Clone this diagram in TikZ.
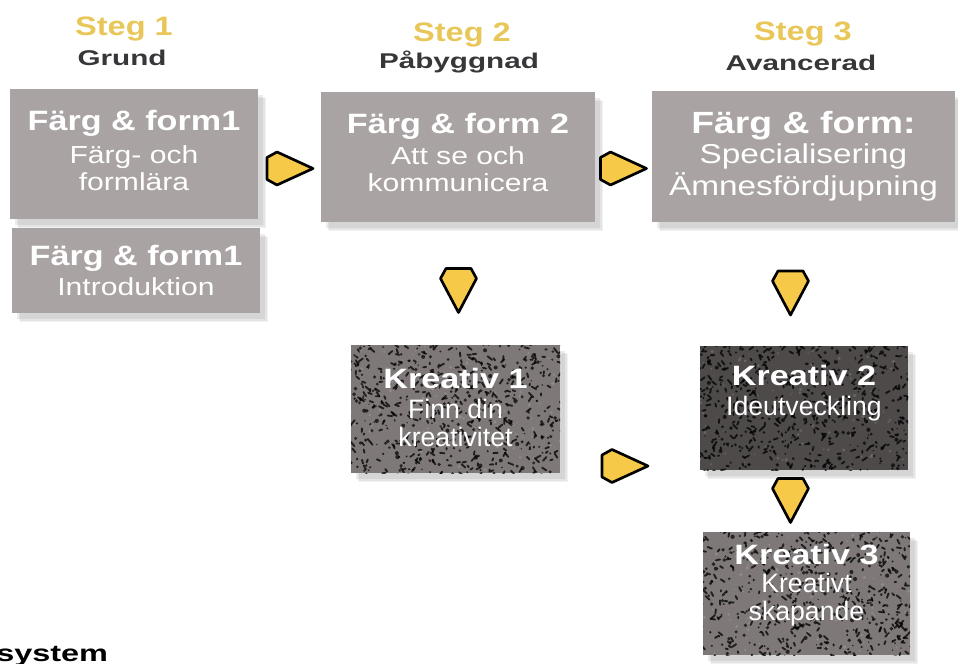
\documentclass[tikz,border=0pt]{standalone}
\usepackage{fontspec}
\setmainfont{Liberation Sans}
\newfontfamily\widesans[FakeStretch=1.22]{Liberation Sans}
\newfontfamily\xwidesans[FakeStretch=1.39]{Liberation Sans}
\usetikzlibrary{calc,shadows}

\definecolor{boxgrey}{RGB}{169,163,163}
\definecolor{kreagrey}{RGB}{126,120,120}
\definecolor{kreadark}{RGB}{78,74,74}
\definecolor{steggold}{RGB}{232,198,88}
\definecolor{levelgrey}{RGB}{55,55,58}
\definecolor{arrowyellow}{RGB}{246,202,72}

\newcommand\boxtitle{\widesans\bfseries\fontsize{21}{24}\selectfont}
\newcommand\boxsub{\widesans\fontsize{18.5}{20.25}\selectfont}
\newcommand\kreasub{\fontsize{20}{21}\selectfont}
\newcommand\stegfont{\widesans\bfseries\fontsize{20}{22}\selectfont}
\newcommand\levelfont{\xwidesans\bfseries\fontsize{16}{19}\selectfont}

\begin{document}
\begin{tikzpicture}[x=0.75pt,y=-0.75pt,
  greybox/.style={fill=boxgrey, text=white, align=center, inner sep=0pt, font=\boxsub,
    drop shadow={shadow xshift=6pt, shadow yshift=-7pt, opacity=.1},
    drop shadow={shadow xshift=5pt, shadow yshift=-6pt, opacity=.12},
    drop shadow={shadow xshift=3.5pt, shadow yshift=-4.5pt, opacity=.15}},
  kreabox/.style={greybox, fill=kreagrey, font=\kreasub,
    path picture={
      \foreach \i in {1,...,380}
        \draw[black, opacity=.75, line width=1.4, line cap=round]
          ($(path picture bounding box.center)+(rand*112,rand*68)$) -- ++(rand*4.5,rand*4.5);
      \foreach \i in {1,...,260}
        \fill[black, opacity=.7] ($(path picture bounding box.center)+(rand*112,rand*68)$) circle [radius=0.7+1.4*rnd];
      \foreach \i in {1,...,120}
        \fill[white, opacity=.15] ($(path picture bounding box.center)+(rand*112,rand*68)$) circle [radius=0.6+1.2*rnd];
    }},
  stegtext/.style={anchor=base, text=steggold, font=\stegfont},
  leveltext/.style={anchor=base, text=levelgrey, font=\levelfont},
  arrowline/.style={fill=arrowyellow, draw=black, line width=2pt, line join=round},
  rarrow/.pic={\draw[arrowline] (-23,-11) -- (-13,-16.5) -- (23,0) -- (-13,16.5) -- (-23,11) -- cycle;},
  darrow/.pic={\draw[arrowline] (-12.5,-22) -- (12.5,-22) -- (18,-12) -- (0,22) -- (-18,-12) -- cycle;}]
\pgfmathsetseed{4711}
\clip (0,0) rectangle (958,664);
\useasboundingbox (0,0) rectangle (958,664);

% headings
\node[stegtext] (steg1) at (124,35) {Steg 1};
\node[leveltext] (grund) at (122,65) {Grund};
\node[stegtext] (steg2) at (462,41) {Steg 2};
\node[leveltext] (paabygg) at (459,68) {Påbyggnad};
\node[stegtext] (steg3) at (803,40) {Steg 3};
\node[leveltext] (avancerad) at (801,70) {Avancerad};

% Färg & form boxes
\node[greybox, minimum width=186pt, minimum height=97.5pt, text depth=6pt] (ff1) at (134,154)
  {{\boxtitle Färg \& form1}\\[4.5pt] Färg- och\\ formlära};
\node[greybox, minimum width=186pt, minimum height=63.75pt] (ff1intro) at (136,270.5)
  {{\boxtitle Färg \& form1}\\[2.25pt] Introduktion};
\node[greybox, minimum width=205.5pt, minimum height=97.5pt, text depth=7.5pt] (ff2) at (458,157)
  {{\boxtitle Färg \& form 2}\\[3pt] Att se och\\ kommunicera};
\node[greybox, minimum width=227.25pt, minimum height=98.25pt,
      font=\widesans\fontsize{20.5}{22.5}\selectfont] (ff3) at (803.5,156.5)
  {{\widesans\bfseries\fontsize{23}{24}\selectfont Färg \& form:}\\ Specialisering\\[1.5pt] Ämnesfördjupning};

% Kreativ boxes
\node[kreabox, minimum width=156.75pt, minimum height=96pt, text depth=3pt] (krea1) at (455.5,409)
  {{\boxtitle Kreativ 1}\\[1.5pt] Finn din\\ kreativitet};
\node[kreabox, fill=kreadark, minimum width=156pt, minimum height=93pt, text depth=26pt] (krea2) at (804,408)
  {{\boxtitle Kreativ 2}\\[1.5pt] Ideutveckling};
\node[kreabox, minimum width=155.25pt, minimum height=92.25pt, text depth=16pt] (krea3) at (806.5,593.5)
  {{\boxtitle Kreativ 3}\\ Kreativt\\ skapande};

% arrows
\pic at (290,168.5) {rarrow};
\pic at (623.5,168.5) {rarrow};
\pic at (625,466) {rarrow};
\pic at (458.5,290.5) {darrow};
\pic at (790.5,293) {darrow};
\pic at (790.5,500.5) {darrow};

% footer
\node[anchor=base west, inner sep=0pt, text=black, font=\xwidesans\bfseries\fontsize{17.5}{20}\selectfont] (system) at (-4,661) {system};

\end{tikzpicture}
\end{document}
